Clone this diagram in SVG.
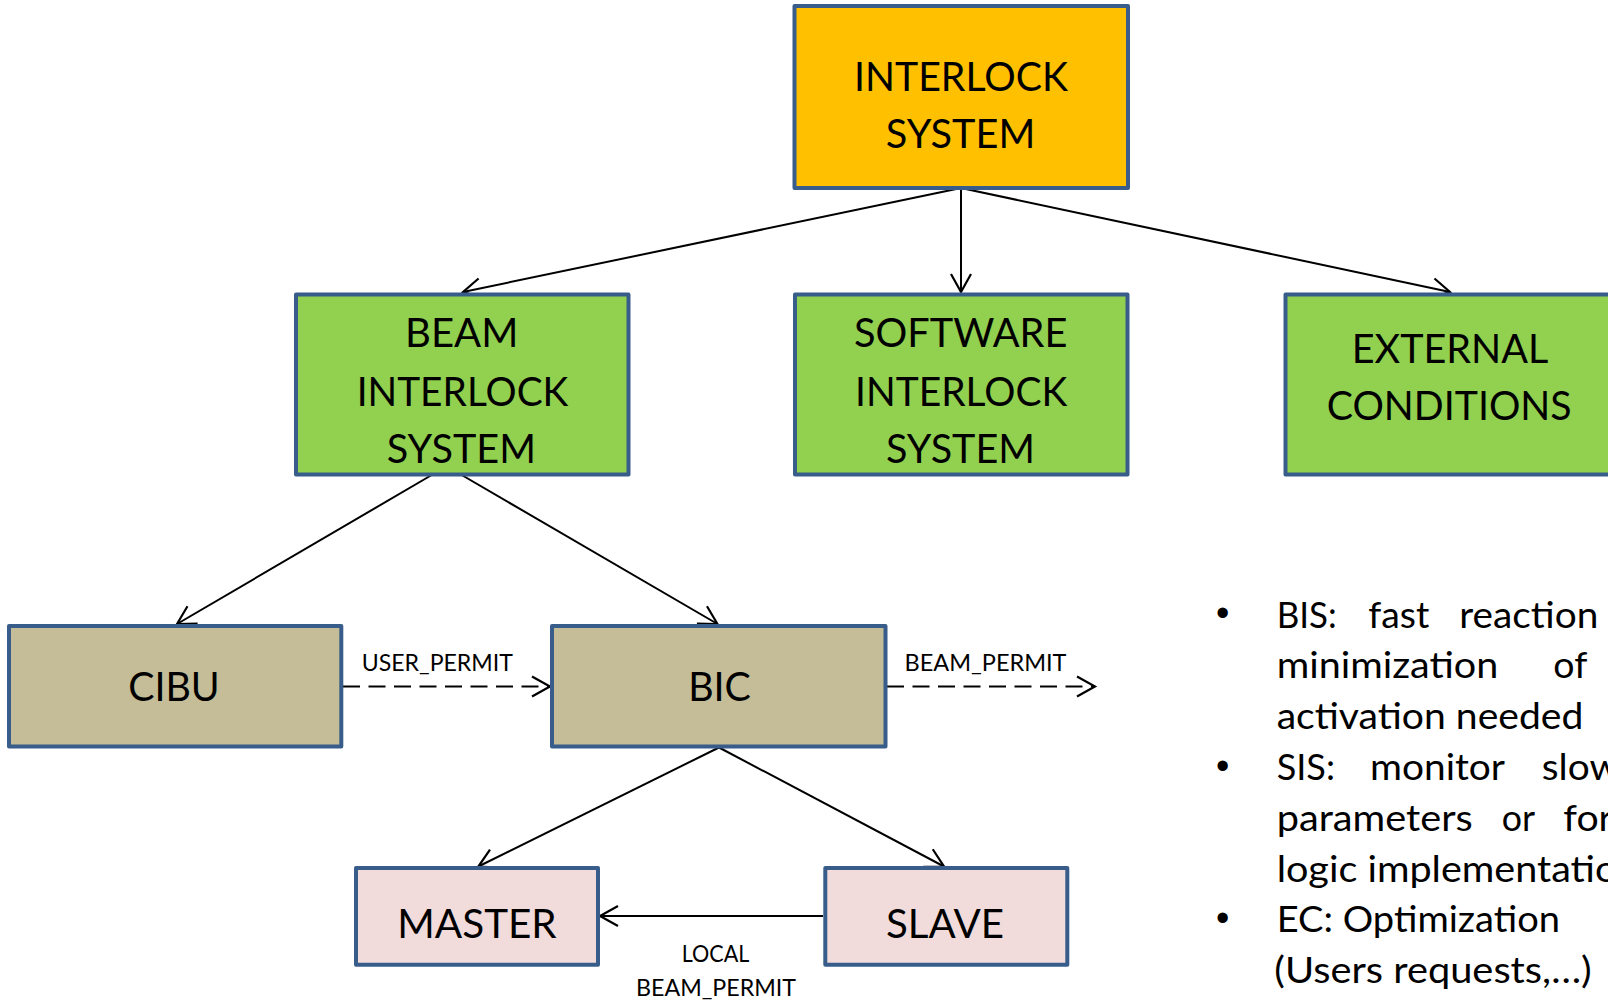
<svg xmlns="http://www.w3.org/2000/svg" width="1608" height="1001" viewBox="0 0 1608 1001">
<style>
.box{stroke:#385D8A;stroke-width:4;stroke-linejoin:round}
.orange{fill:#FFC000}
.green{fill:#92D050}
.tan{fill:#C4BD97}
.pink{fill:#F2DCDB}
.t{font-family:Lato,"Liberation Sans",sans-serif;font-size:41px;fill:#000;text-anchor:middle}
.lbl{font-family:Lato,"Liberation Sans",sans-serif;font-size:23.5px;fill:#000;text-anchor:middle}
.bt{font-family:Lato,"Liberation Sans",sans-serif;font-size:37px;fill:#000}
.bul{font-family:"Liberation Sans",sans-serif;font-size:38px;fill:#000;text-anchor:middle}
.c{stroke:#000;stroke-width:2;fill:none}
.d{stroke-dasharray:17 8.5}
</style>
<defs>
<marker id="arr" markerUnits="userSpaceOnUse" markerWidth="30" markerHeight="30" refX="20" refY="11" orient="auto" overflow="visible">
<path d="M2,1 L20,11 L2,21" fill="none" stroke="#000" stroke-width="2.2"/>
</marker>
</defs>
<rect width="1608" height="1001" fill="#fff"/>

<g id="connectors">
<line class="c" x1="961" y1="188" x2="463" y2="292" marker-end="url(#arr)"/>
<line class="c" x1="961" y1="188" x2="961" y2="292" marker-end="url(#arr)"/>
<line class="c" x1="961" y1="188" x2="1450" y2="292" marker-end="url(#arr)"/>
<line class="c" x1="431.7" y1="475" x2="177" y2="624" marker-end="url(#arr)"/>
<line class="c" x1="461.7" y1="475" x2="717.5" y2="624" marker-end="url(#arr)"/>
<line class="c" x1="719" y1="747.5" x2="478.3" y2="866.5" marker-end="url(#arr)"/>
<line class="c" x1="719" y1="747.5" x2="944" y2="866.5" marker-end="url(#arr)"/>
<line class="c d" x1="343" y1="686.5" x2="550" y2="686.5" marker-end="url(#arr)"/>
<line class="c d" x1="887" y1="686.5" x2="1095" y2="686.5" marker-end="url(#arr)"/>
<line class="c" x1="823" y1="916" x2="600" y2="916" marker-end="url(#arr)"/>
<text class="lbl" x="437.3" y="670.7" textLength="151.3" lengthAdjust="spacingAndGlyphs">USER_PERMIT</text>
<text class="lbl" x="985.5" y="670.7" textLength="162" lengthAdjust="spacingAndGlyphs">BEAM_PERMIT</text>
<text class="lbl" x="715.5" y="962.3" textLength="67.6" lengthAdjust="spacingAndGlyphs">LOCAL</text>
<text class="lbl" x="716" y="995.5" textLength="160" lengthAdjust="spacingAndGlyphs">BEAM_PERMIT</text>
</g>

<g id="interlock-system">
<rect class="box orange" x="794.5" y="6" width="333.5" height="182"/>
<text class="t" x="961" y="91" textLength="214" lengthAdjust="spacingAndGlyphs">INTERLOCK</text>
<text class="t" x="960.5" y="148" textLength="149.6" lengthAdjust="spacingAndGlyphs">SYSTEM</text>
</g>

<g id="beam-interlock-system">
<rect class="box green" x="296" y="294.5" width="332.5" height="180"/>
<text class="t" x="461.7" y="347" textLength="113.3" lengthAdjust="spacingAndGlyphs">BEAM</text>
<text class="t" x="462.5" y="406" textLength="211.7" lengthAdjust="spacingAndGlyphs">INTERLOCK</text>
<text class="t" x="461.3" y="463.3" textLength="149.3" lengthAdjust="spacingAndGlyphs">SYSTEM</text>
</g>

<g id="software-interlock-system">
<rect class="box green" x="795" y="294.5" width="332.5" height="180"/>
<text class="t" x="960.7" y="346.7" textLength="213.3" lengthAdjust="spacingAndGlyphs">SOFTWARE</text>
<text class="t" x="961.2" y="406" textLength="212.3" lengthAdjust="spacingAndGlyphs">INTERLOCK</text>
<text class="t" x="960.5" y="463.3" textLength="149" lengthAdjust="spacingAndGlyphs">SYSTEM</text>
</g>

<g id="external-conditions">
<rect class="box green" x="1285.5" y="294.5" width="333" height="180"/>
<text class="t" x="1450" y="362.7" textLength="196.7" lengthAdjust="spacingAndGlyphs">EXTERNAL</text>
<text class="t" x="1449.2" y="420" textLength="245" lengthAdjust="spacingAndGlyphs">CONDITIONS</text>
</g>

<g id="cibu">
<rect class="box tan" x="9" y="626" width="332.3" height="120.5"/>
<text class="t" x="174" y="700.5" textLength="91.5" lengthAdjust="spacingAndGlyphs">CIBU</text>
</g>

<g id="bic">
<rect class="box tan" x="552" y="626" width="333.5" height="120.5"/>
<text class="t" x="719.5" y="700.5" textLength="62.7" lengthAdjust="spacingAndGlyphs">BIC</text>
</g>

<g id="master">
<rect class="box pink" x="356" y="868" width="242" height="96.7"/>
<text class="t" x="477" y="937.7" textLength="159.4" lengthAdjust="spacingAndGlyphs">MASTER</text>
</g>

<g id="slave">
<rect class="box pink" x="825.3" y="868" width="242" height="96.7"/>
<text class="t" x="945" y="937.7" textLength="118" lengthAdjust="spacingAndGlyphs">SLAVE</text>
</g>

<g id="notes">
<text class="bul" x="1222.7" y="626">•</text>
<text class="bul" x="1222.7" y="778.5">•</text>
<text class="bul" x="1222.7" y="931">•</text>
<text class="bt" y="627.5"><tspan x="1276.7" textLength="60" lengthAdjust="spacingAndGlyphs">BIS:</tspan><tspan x="1368.3" textLength="61" lengthAdjust="spacingAndGlyphs">fast</tspan><tspan x="1459.3" textLength="139" lengthAdjust="spacingAndGlyphs">reaction</tspan></text>
<text class="bt" y="678.3"><tspan x="1276.7" textLength="221.6" lengthAdjust="spacingAndGlyphs">minimization</tspan><tspan x="1553.3" textLength="34" lengthAdjust="spacingAndGlyphs">of</tspan></text>
<text class="bt" x="1276.7" y="729.1" textLength="306.7" lengthAdjust="spacingAndGlyphs">activation needed</text>
<text class="bt" y="779.9"><tspan x="1276.7" textLength="58.3" lengthAdjust="spacingAndGlyphs">SIS:</tspan><tspan x="1370" textLength="135" lengthAdjust="spacingAndGlyphs">monitor</tspan><tspan x="1541.7" textLength="78.2" lengthAdjust="spacingAndGlyphs">slow</tspan></text>
<text class="bt" y="830.7"><tspan x="1276.7" textLength="196" lengthAdjust="spacingAndGlyphs">parameters</tspan><tspan x="1501.7" textLength="33.3" lengthAdjust="spacingAndGlyphs">or</tspan><tspan x="1563.3" textLength="49.6" lengthAdjust="spacingAndGlyphs">for</tspan></text>
<text class="bt" x="1276.7" y="881.5" textLength="362.8" lengthAdjust="spacingAndGlyphs">logic implementation</text>
<text class="bt" x="1276.7" y="932.3" textLength="283.3" lengthAdjust="spacingAndGlyphs">EC: Optimization</text>
<text class="bt" x="1274.3" y="983.1" textLength="317.3" lengthAdjust="spacingAndGlyphs">(Users requests,…)</text>
</g>
</svg>
